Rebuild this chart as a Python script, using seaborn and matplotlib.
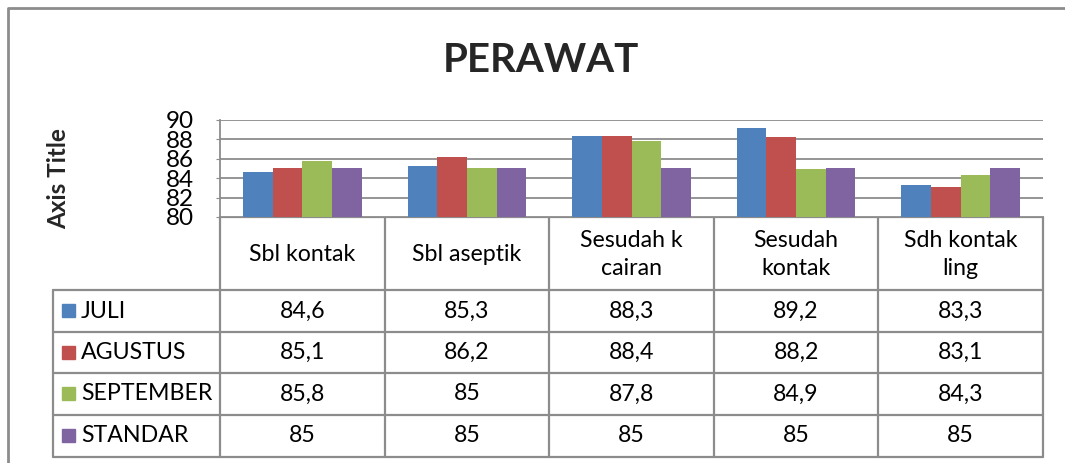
import pandas as pd
import matplotlib
matplotlib.use('Agg')
import matplotlib.pyplot as plt
import seaborn as sns

# Chart data
categories = ['Sbl kontak', 'Sbl aseptik', 'Sesudah k\ncairan', 'Sesudah\nkontak', 'Sdh kontak\nling']
series = ['JULI', 'AGUSTUS', 'SEPTEMBER', 'STANDAR']
juli = [84.6, 85.3, 88.3, 89.2, 83.3]
agustus = [85.1, 86.2, 88.4, 88.2, 83.1]
september = [85.8, 85, 87.8, 84.9, 84.3]
standar = [85, 85, 85, 85, 85]
colors = ['#4F81BD', '#C0504D', '#9BBB59', '#8064A2']
yticks = [80, 82, 84, 86, 88, 90]

values = [juli, agustus, september, standar]
rows = []
for name, vals in zip(series, values):
    for cat, v in zip(categories, vals):
        rows.append({'kategori': cat, 'bulan': name, 'nilai': v})
df = pd.DataFrame(rows)

sns.set_style('white')
plt.rcParams['font.family'] = ['Lato', 'DejaVu Sans']

W, H = 1065, 463
fig = plt.figure(figsize=(W / 100, H / 100), dpi=100)

def px(x0, y0, x1, y1):
    return [x0 / W, 1 - y1 / H, (x1 - x0) / W, (y1 - y0) / H]

grid_col = '#8C8C8C'
fs = 16.7

# overlay for frame, title and table
ov = fig.add_axes([0, 0, 1, 1])
ov.set_xlim(0, W)
ov.set_ylim(H, 0)
ov.axis('off')
ov.plot([8, 8, W + 5], [H + 5, 8, 8], color='#8C8C8C', lw=2)
ov.text(541, 61, 'PERAWAT', ha='center', va='center', fontsize=29, fontweight='bold')
ov.text(59, 179, 'Axis Title', ha='center', va='center', rotation=90, fontsize=17.5, fontweight='bold')

# bar chart
ax = fig.add_axes(px(220, 120, 1043, 217))
sns.barplot(data=df, x='kategori', y='nilai', hue='bulan', hue_order=series,
            palette=colors, width=0.72, gap=0, saturation=1, edgecolor='none',
            legend=False, ax=ax)
ax.set_ylim(80, 90)
ax.set_yticks(yticks)
ax.set_yticklabels([str(t) for t in yticks], fontsize=17.5)
ax.set_xlim(-0.5, len(categories) - 0.5)
ax.set_xticks([])
ax.set_xlabel('')
ax.set_ylabel('')
ax.tick_params(axis='y', length=3, pad=16, color=grid_col, left=True, labelcolor='black')
ax.yaxis.grid(True, color=grid_col, lw=1.3)
ax.set_axisbelow(True)
for s in ['top', 'right', 'bottom']:
    ax.spines[s].set_visible(False)
ax.spines['left'].set_color(grid_col)
ax.spines['left'].set_linewidth(1.3)

# data table under the chart
x0, x1 = 220, 1043
cw = (x1 - x0) / len(categories)
row_y = [217, 290, 332, 373, 415, 457]
lw = 1.6
ov.plot([x0, x1], [217, 217], color=grid_col, lw=lw)
for i in range(len(categories) + 1):
    ov.plot([x0 + i * cw] * 2, [217, row_y[-1]], color=grid_col, lw=lw)
ov.plot([53, 53], [row_y[1], row_y[-1]], color=grid_col, lw=lw)
for y in row_y[1:]:
    ov.plot([53, x1], [y, y], color=grid_col, lw=lw)

for i, cat in enumerate(categories):
    ov.text(x0 + (i + 0.5) * cw, (row_y[0] + row_y[1]) / 2 + 1, cat, ha='center', va='center',
            fontsize=fs, linespacing=1.4, color='black')

for r, (name, vals, c) in enumerate(zip(series, values, colors)):
    yc = (row_y[r + 1] + row_y[r + 2]) / 2
    ov.add_patch(plt.Rectangle((62, yc - 7), 13, 13, color=c))
    ov.text(81, yc, name, ha='left', va='center', fontsize=fs, color='black')
    for i, v in enumerate(vals):
        ov.text(x0 + (i + 0.5) * cw, yc, f'{v:g}'.replace('.', ','), ha='center', va='center',
                fontsize=fs, color='black')

fig.savefig('out.png', dpi=100)
